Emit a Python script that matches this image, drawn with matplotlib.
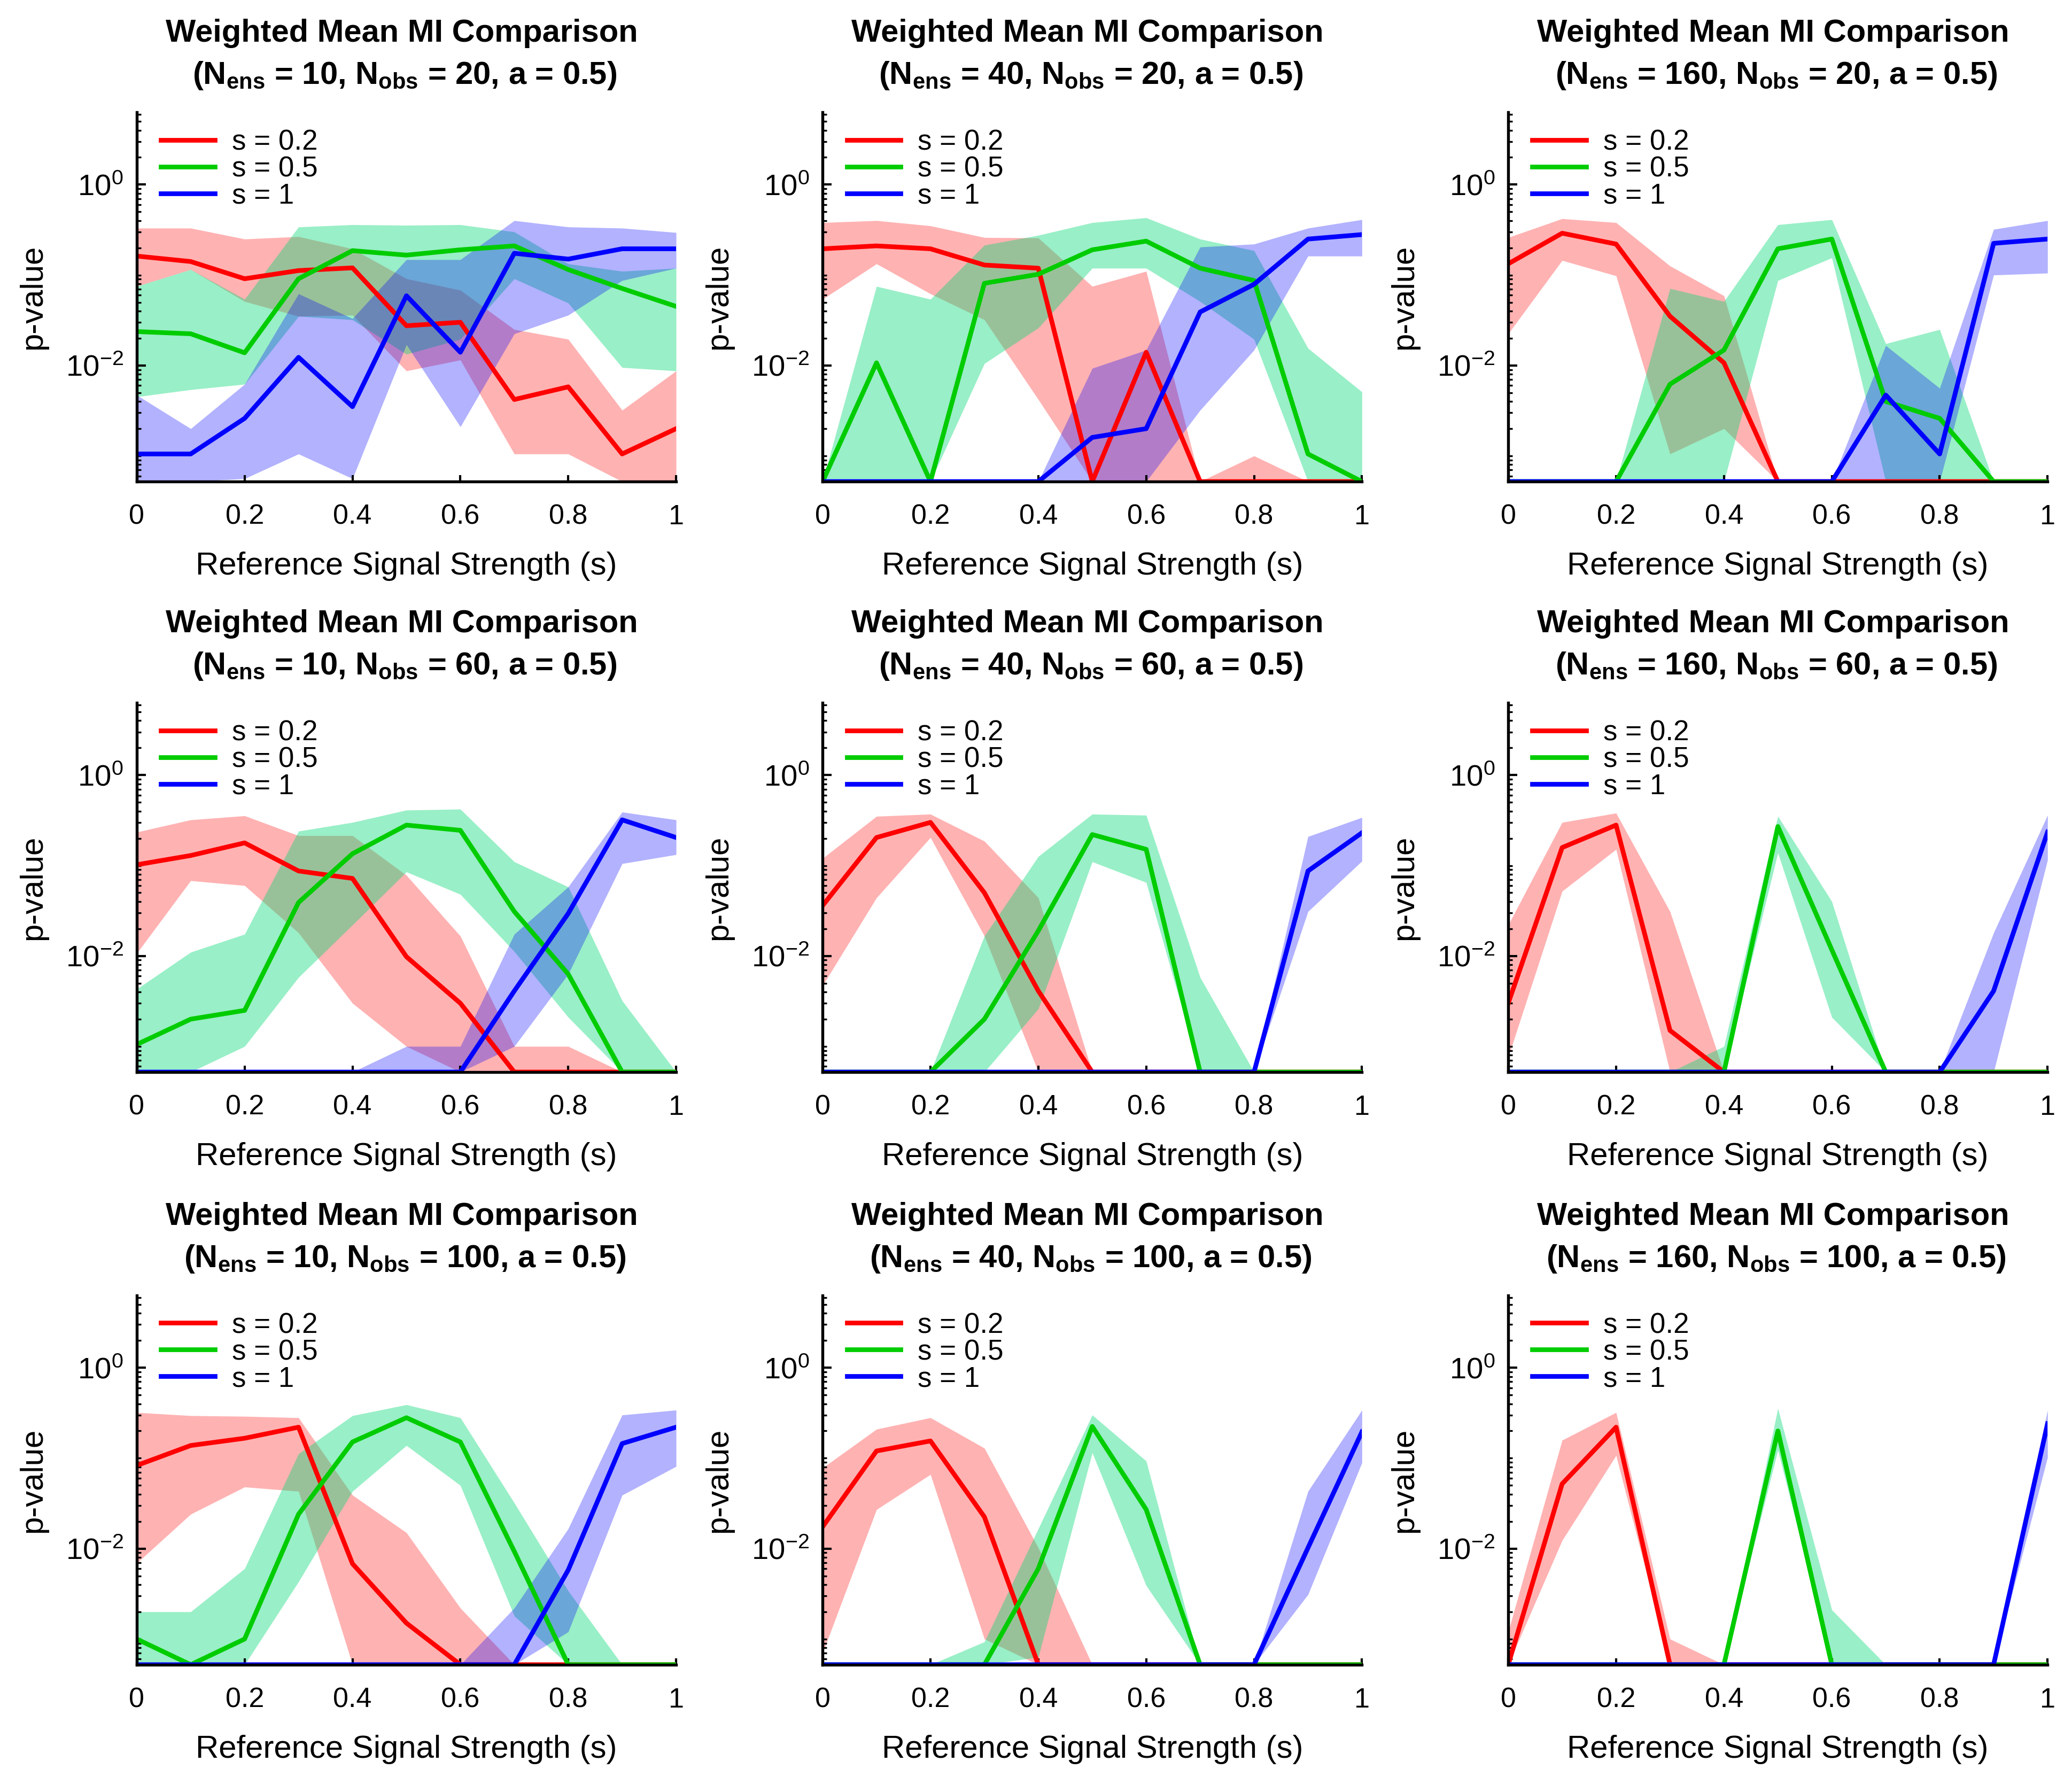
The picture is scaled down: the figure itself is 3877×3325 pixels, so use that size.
import numpy as np
import matplotlib
matplotlib.use("Agg")
import matplotlib.pyplot as plt
from matplotlib.ticker import FixedLocator, NullFormatter, LogFormatterSciNotation

plt.rcParams['font.family'] = ['Liberation Sans', 'DejaVu Sans']
plt.rcParams['mathtext.fontset'] = 'custom'
plt.rcParams['mathtext.rm'] = 'Liberation Sans'
plt.rcParams['mathtext.bf'] = 'Liberation Sans:bold'
plt.rcParams['mathtext.it'] = 'Liberation Sans:italic'

# x axis: reference signal strength
s_ref = [0, 0.1, 0.2, 0.3, 0.4, 0.5, 0.6, 0.7, 0.8, 0.9, 1.0]
n_ens = [10, 40, 160]
n_obs = [20, 60, 100]
series_labels = ['s = 0.2', 's = 0.5', 's = 1']

# p-values, 0 = drawn on the floor of the axis
# each list: [s=0.2, s=0.5, s=1]
mid_10_20 = [[0.162, 0.141, 0.091, 0.112, 0.12, 0.0275, 0.030, 0.0042, 0.0058, 0.00105, 0.002],
             [0.0237, 0.0224, 0.0138, 0.091, 0.186, 0.166, 0.19, 0.21, 0.115, 0.071, 0.045],
             [0.00105, 0.00105, 0.0026, 0.0123, 0.0035, 0.059, 0.014, 0.174, 0.15, 0.195, 0.195]]
lo_10_20 = [[0.075, 0.115, 0.051, 0.035, 0.036, 0.0087, 0.0115, 0.00105, 0.00105, 0, 0],
            [0.0045, 0.0054, 0.0062, 0.035, 0.032, 0.0133, 0.0195, 0.091, 0.049, 0.0095, 0.0087],
            [0, 0, 0.00056, 0.00105, 0.00056, 0.017, 0.0021, 0.0224, 0.036, 0.087, 0.119]]
hi_10_20 = [[0.33, 0.33, 0.25, 0.266, 0.195, 0.091, 0.068, 0.025, 0.0195, 0.0032, 0.0087],
            [0.075, 0.115, 0.054, 0.34, 0.36, 0.355, 0.36, 0.30, 0.133, 0.11, 0.119],
            [0.0047, 0.002, 0.0062, 0.062, 0.033, 0.148, 0.148, 0.40, 0.34, 0.33, 0.295]]

mid_40_20 = [[0.195, 0.21, 0.195, 0.129, 0.119, 0, 0.014, 0, 0, 0, 0],
             [0, 0.0107, 0, 0.081, 0.102, 0.19, 0.237, 0.119, 0.087, 0.00105, 0],
             [0, 0, 0, 0, 0, 0.0016, 0.002, 0.039, 0.079, 0.25, 0.28]]
lo_40_20 = [[0.054, 0.133, 0.062, 0.032, 0.0042, 0, 0, 0, 0, 0, 0],
            [0, 0, 0, 0.0105, 0.026, 0.119, 0.119, 0.051, 0.0195, 0, 0],
            [0, 0, 0, 0, 0, 0, 0, 0.0032, 0.0148, 0.162, 0.162]]
hi_40_20 = [[0.38, 0.40, 0.35, 0.26, 0.257, 0.075, 0.11, 0, 0.001, 0, 0],
            [0, 0.075, 0.054, 0.214, 0.275, 0.38, 0.43, 0.25, 0.186, 0.0155, 0.0051],
            [0, 0, 0, 0, 0, 0.0093, 0.0148, 0.204, 0.22, 0.33, 0.41]]

mid_160_20 = [[0.133, 0.29, 0.22, 0.035, 0.0107, 0, 0, 0, 0, 0, 0],
              [0, 0, 0, 0.0062, 0.0148, 0.195, 0.25, 0.004, 0.0026, 0, 0],
              [0, 0, 0, 0, 0, 0, 0, 0.0047, 0.00105, 0.224, 0.25]]
lo_160_20 = [[0.0224, 0.145, 0.098, 0.00105, 0.002, 0, 0, 0, 0, 0, 0],
             [0, 0, 0, 0, 0, 0.087, 0.155, 0, 0, 0, 0],
             [0, 0, 0, 0, 0, 0, 0, 0, 0, 0.1, 0.105]]
hi_160_20 = [[0.26, 0.42, 0.38, 0.126, 0.059, 0, 0, 0, 0, 0, 0],
             [0, 0, 0, 0.071, 0.051, 0.36, 0.41, 0.0174, 0.025, 0, 0],
             [0, 0, 0, 0, 0, 0, 0, 0.0166, 0.0056, 0.32, 0.40]]

mid_10_60 = [[0.102, 0.129, 0.178, 0.087, 0.072, 0.0098, 0.003, 0, 0, 0, 0],
             [0.00105, 0.002, 0.0025, 0.039, 0.135, 0.28, 0.245, 0.031, 0.0063, 0, 0],
             [0, 0, 0, 0, 0, 0, 0, 0.0041, 0.0295, 0.32, 0.204]]
lo_10_60 = [[0.0107, 0.068, 0.06, 0.018, 0.003, 0.001, 0, 0, 0, 0, 0],
            [0, 0, 0.001, 0.0058, 0.022, 0.085, 0.048, 0.0112, 0.0021, 0, 0],
            [0, 0, 0, 0, 0, 0, 0, 0.001, 0.0063, 0.105, 0.132]]
hi_10_60 = [[0.234, 0.32, 0.355, 0.214, 0.214, 0.078, 0.0166, 0.001, 0.001, 0, 0],
            [0.0043, 0.011, 0.0174, 0.24, 0.30, 0.41, 0.42, 0.11, 0.058, 0.0032, 0],
            [0, 0, 0, 0, 0, 0.001, 0.001, 0.0174, 0.058, 0.39, 0.32]]

mid_40_60 = [[0.036, 0.204, 0.30, 0.05, 0.0041, 0, 0, 0, 0, 0, 0],
             [0, 0, 0, 0.002, 0.019, 0.22, 0.151, 0, 0, 0, 0],
             [0, 0, 0, 0, 0, 0, 0, 0, 0, 0.087, 0.23]]
lo_40_60 = [[0.0047, 0.044, 0.204, 0.0166, 0, 0, 0, 0, 0, 0, 0],
            [0, 0, 0, 0, 0.0026, 0.11, 0.065, 0, 0, 0, 0],
            [0, 0, 0, 0, 0, 0, 0, 0, 0, 0.031, 0.112]]
hi_40_60 = [[0.12, 0.35, 0.37, 0.186, 0.044, 0, 0, 0, 0, 0, 0],
            [0, 0, 0, 0.0166, 0.126, 0.37, 0.36, 0.0058, 0, 0, 0],
            [0, 0, 0, 0, 0, 0, 0, 0, 0, 0.209, 0.34]]

mid_160_60 = [[0.003, 0.158, 0.28, 0.0015, 0, 0, 0, 0, 0, 0, 0],
              [0, 0, 0, 0, 0, 0.27, 0.0117, 0, 0, 0, 0],
              [0, 0, 0, 0, 0, 0, 0, 0, 0, 0.0041, 0.234]]
lo_160_60 = [[0.00076, 0.052, 0.151, 0, 0, 0, 0, 0, 0, 0, 0],
             [0, 0, 0, 0, 0, 0.138, 0.0021, 0, 0, 0, 0],
             [0, 0, 0, 0, 0, 0, 0, 0, 0, 0, 0.115]]
hi_160_60 = [[0.022, 0.30, 0.38, 0.031, 0, 0, 0, 0, 0, 0, 0],
             [0, 0, 0, 0, 0.001, 0.35, 0.04, 0, 0, 0, 0],
             [0, 0, 0, 0, 0, 0, 0, 0, 0, 0.018, 0.36]]

mid_10_100 = [[0.083, 0.138, 0.166, 0.22, 0.0068, 0.0015, 0, 0, 0, 0, 0],
              [0.001, 0, 0.001, 0.024, 0.151, 0.28, 0.151, 0.0093, 0, 0, 0],
              [0, 0, 0, 0, 0, 0, 0, 0, 0.0058, 0.145, 0.22]]
lo_10_100 = [[0.0069, 0.024, 0.048, 0.043, 0, 0, 0, 0, 0, 0, 0],
             [0, 0, 0, 0.0043, 0.043, 0.138, 0.05, 0.0018, 0, 0, 0],
             [0, 0, 0, 0, 0, 0, 0, 0, 0.0012, 0.039, 0.081]]
hi_10_100 = [[0.32, 0.295, 0.29, 0.28, 0.039, 0.015, 0.0022, 0, 0, 0, 0],
             [0.002, 0.002, 0.006, 0.112, 0.295, 0.39, 0.28, 0.032, 0.0034, 0, 0],
             [0, 0, 0, 0, 0, 0, 0, 0.0022, 0.0166, 0.30, 0.34]]

mid_40_100 = [[0.0174, 0.12, 0.155, 0.0224, 0, 0, 0, 0, 0, 0, 0],
              [0, 0, 0, 0, 0.006, 0.224, 0.027, 0, 0, 0, 0],
              [0, 0, 0, 0, 0, 0, 0, 0, 0, 0.0102, 0.195]]
lo_40_100 = [[0.0007, 0.027, 0.066, 0.001, 0, 0, 0, 0, 0, 0, 0],
             [0, 0, 0, 0, 0.00063, 0.115, 0.0039, 0, 0, 0, 0],
             [0, 0, 0, 0, 0, 0, 0, 0, 0, 0.0031, 0.089]]
hi_40_100 = [[0.078, 0.209, 0.28, 0.129, 0.0102, 0, 0, 0, 0, 0, 0],
             [0, 0, 0, 0.00093, 0.0166, 0.30, 0.093, 0, 0, 0, 0],
             [0, 0, 0, 0, 0, 0, 0, 0, 0, 0.043, 0.34]]

mid_160_100 = [[0, 0.052, 0.22, 0, 0, 0, 0, 0, 0, 0, 0],
               [0, 0, 0, 0, 0, 0.2, 0, 0, 0, 0, 0],
               [0, 0, 0, 0, 0, 0, 0, 0, 0, 0, 0.24]]
lo_160_100 = [[0, 0.0123, 0.107, 0, 0, 0, 0, 0, 0, 0, 0],
              [0, 0, 0, 0, 0, 0.123, 0, 0, 0, 0, 0],
              [0, 0, 0, 0, 0, 0, 0, 0, 0, 0, 0.102]]
hi_160_100 = [[0.0012, 0.158, 0.32, 0.001, 0, 0, 0, 0, 0, 0, 0],
              [0, 0, 0, 0, 0, 0.355, 0.0021, 0, 0, 0, 0],
              [0, 0, 0, 0, 0, 0, 0, 0, 0, 0, 0.34]]

panels = {
    (10, 20): (mid_10_20, lo_10_20, hi_10_20),
    (40, 20): (mid_40_20, lo_40_20, hi_40_20),
    (160, 20): (mid_160_20, lo_160_20, hi_160_20),
    (10, 60): (mid_10_60, lo_10_60, hi_10_60),
    (40, 60): (mid_40_60, lo_40_60, hi_40_60),
    (160, 60): (mid_160_60, lo_160_60, hi_160_60),
    (10, 100): (mid_10_100, lo_10_100, hi_10_100),
    (40, 100): (mid_40_100, lo_40_100, hi_40_100),
    (160, 100): (mid_160_100, lo_160_100, hi_160_100),
}

line_colors = ['#ff0000', '#00cc00', '#0000ff']
fill_colors = [('#ff0000', 0.30), ('#00d975', 0.40), ('#0000ff', 0.30)]

YMIN, YMAX = 5.2e-4, 6.3

fig = plt.figure(figsize=(3877 / 300, 3325 / 300), dpi=300)

col_left = [0.0660, 0.3970, 0.7279]
row_bottom = [0.7290, 0.3967, 0.0632]
ax_w, ax_h = 0.2603, 0.2078

major_y = [1e-2, 1e0]
minor_y = [k * 10.0 ** e for e in range(-4, 1) for k in range(1, 10)]
minor_y = [v for v in minor_y if v not in major_y]

for r, nobs in enumerate(n_obs):
    for c, nens in enumerate(n_ens):
        ax = fig.add_axes([col_left[c], row_bottom[r], ax_w, ax_h])
        mids, los, his = panels[(nens, nobs)]
        x = np.array(s_ref)
        for i in range(3):
            lo = np.maximum(np.array(los[i], dtype=float), YMIN)
            hi = np.maximum(np.array(his[i], dtype=float), YMIN)
            mid = np.maximum(np.array(mids[i], dtype=float), YMIN)
            fc, fa = fill_colors[i]
            ax.fill_between(x, lo, hi, color=fc, alpha=fa, linewidth=0)
            ax.plot(x, mid, color=line_colors[i], linewidth=2.1, label=series_labels[i])

        ax.set_yscale('log')
        ax.set_xlim(0, 1)
        ax.set_ylim(YMIN, YMAX)
        ax.yaxis.set_major_locator(FixedLocator(major_y))
        ax.yaxis.set_major_formatter(LogFormatterSciNotation())
        ax.yaxis.set_minor_locator(FixedLocator(minor_y))
        ax.yaxis.set_minor_formatter(NullFormatter())
        ax.set_xticks([0, 0.2, 0.4, 0.6, 0.8, 1.0])
        ax.set_xticklabels(['0', '0.2', '0.4', '0.6', '0.8', '1'])

        for side in ['top', 'right']:
            ax.spines[side].set_visible(False)
        for side in ['left', 'bottom']:
            ax.spines[side].set_linewidth(1.3)
            ax.spines[side].set_color('black')
        ax.tick_params(which='both', direction='in', labelsize=12.5, colors='black')
        ax.tick_params(axis='y', which='major', labelsize=13.5)
        ax.tick_params(axis='x', which='major', length=3, width=1, pad=10)
        ax.tick_params(axis='y', which='major', length=4, width=1, pad=6)
        ax.tick_params(axis='y', which='minor', length=2, width=0.8)

        ax.set_xlabel('Reference Signal Strength (s)', fontsize=14.4)
        ax.set_ylabel('p-value', fontsize=14.4)
        ax.xaxis.set_label_coords(0.5, -0.19)
        ax.yaxis.set_label_coords(-0.165, 0.5)

        ax.text(0.491, 1.191, 'Weighted Mean MI Comparison', transform=ax.transAxes,
                ha='center', va='baseline', fontsize=14.3, fontweight='bold')
        ax.text(0.497, 1.077,
                r'(N$_{\mathbf{ens}}$ = %d, N$_{\mathbf{obs}}$ = %d, a = 0.5)' % (nens, nobs),
                transform=ax.transAxes, ha='center', va='baseline',
                fontsize=14.3, fontweight='bold')

        ax.legend(loc='upper left', bbox_to_anchor=(0.045, 0.955), frameon=False,
                  fontsize=12.7, handlelength=1.9, handletextpad=0.6,
                  labelspacing=0.0, borderpad=0, borderaxespad=0)

fig.savefig('out.png', dpi=300)
